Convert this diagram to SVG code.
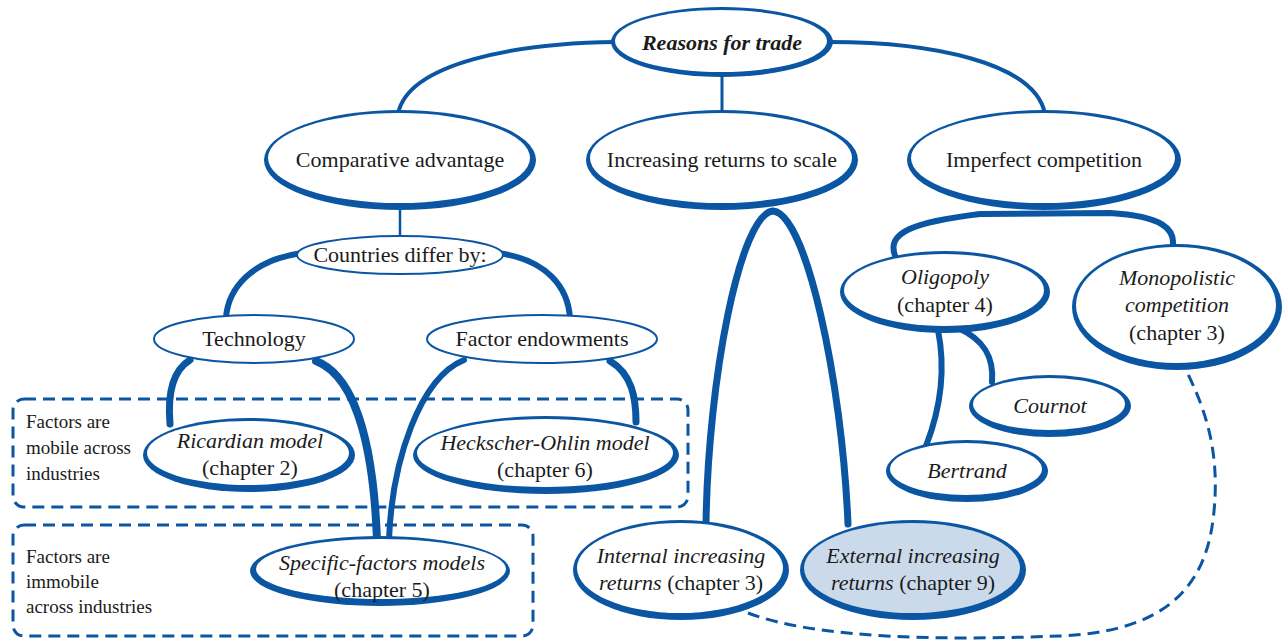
<svg xmlns="http://www.w3.org/2000/svg" width="1285" height="640" viewBox="0 0 1285 640">
  <style>
    .rim { fill: #0b56a3; }
    .face { fill: #ffffff; }
    .face.hl { fill: #cbdaeb; }
    .thin { fill: #ffffff; stroke: #0b56a3; stroke-width: 2; }
    .link { fill: none; stroke: #0b56a3; stroke-linecap: round; }
    .dash { fill: none; stroke: #0b56a3; stroke-width: 3; stroke-dasharray: 12 7; }
    .lbl { font-family: "Liberation Serif", Tinos, "Times New Roman", Times, "DejaVu Serif", "Noto Serif", Georgia, serif; font-size: 22px; fill: #1b1b1b; text-anchor: middle; }
    .i { font-style: italic; }
    .title { font-weight: bold; font-style: italic; font-size: 22px; }
    .note { font-size: 19px; text-anchor: start; }
  </style>

  <!-- grouping boxes -->
  <g id="boxes">
    <rect class="dash" x="13" y="399" width="675" height="108" rx="11"/>
    <rect class="dash" x="13" y="525" width="520" height="111" rx="11"/>
    <text class="lbl note" x="26" y="428">Factors are</text>
    <text class="lbl note" x="26" y="454">mobile across</text>
    <text class="lbl note" x="26" y="480">industries</text>
    <text class="lbl note" x="26" y="563">Factors are</text>
    <text class="lbl note" x="26" y="588">immobile</text>
    <text class="lbl note" x="26" y="613">across industries</text>
  </g>

  <!-- connectors -->
  <g id="connectors">
    <path class="link" stroke-width="4" d="M398,114 C408,62 520,43 616,42"/>
    <path class="link" stroke-width="4" d="M830,42 C930,42 1035,62 1045,114"/>
    <path class="link" stroke-width="3" d="M722,76 L722,112"/>
    <path class="link" stroke-width="2.5" d="M400,208 L400,238"/>
    <path class="link" stroke-width="6" d="M302,253 C252,260 228,288 226,318"/>
    <path class="link" stroke-width="6" d="M498,253 C548,260 568,288 570,318"/>
    <path class="link" stroke-width="7" d="M190,360 C170,372 168,400 170,424"/>
    <path class="link" stroke-width="8" d="M316,361 C360,378 374,460 377,540"/>
    <path class="link" stroke-width="6" d="M464,360 C420,378 392,460 389,540"/>
    <path class="link" stroke-width="7" d="M610,361 C632,374 636,398 636,422"/>
    <path class="link" stroke-width="7" d="M706,524 C708,380 740,214 773,211 C806,214 842,380 848,524"/>
    <path class="link" stroke-width="6" d="M896,258 C884,232 915,222 980,214 L1110,213 C1160,216 1178,228 1172,250"/>
    <path class="link" stroke-width="6" d="M938,330 C946,370 940,410 926,446"/>
    <path class="link" stroke-width="6" d="M958,328 C985,340 994,358 992,382"/>
    <path class="dash" d="M748,613 C820,640 950,640 1060,636 C1150,632 1203,600 1213,520 C1222,450 1203,405 1186,370"/>
  </g>

  <g id="reasons">
    <ellipse class="rim" cx="722" cy="42" rx="111" ry="35"/>
    <ellipse class="face" cx="721" cy="41" rx="106" ry="31"/>
    <text class="lbl title" x="722" y="50">Reasons for trade</text>
  </g>
  <g id="comparative">
    <ellipse class="rim" cx="400" cy="160" rx="136" ry="50"/>
    <ellipse class="face" cx="399" cy="158" rx="131" ry="45"/>
    <text class="lbl" x="400" y="167">Comparative advantage</text>
  </g>
  <g id="increasing">
    <ellipse class="rim" cx="722" cy="160" rx="136" ry="50"/>
    <ellipse class="face" cx="721" cy="158" rx="131" ry="45"/>
    <text class="lbl" x="722" y="167">Increasing returns to scale</text>
  </g>
  <g id="imperfect">
    <ellipse class="rim" cx="1044" cy="160" rx="137" ry="50"/>
    <ellipse class="face" cx="1043" cy="158" rx="132" ry="45"/>
    <text class="lbl" x="1044" y="167">Imperfect competition</text>
  </g>
  <g id="countries">
    <ellipse class="thin" cx="400" cy="255" rx="103" ry="19"/>
    <text class="lbl" x="400" y="262">Countries differ by:</text>
  </g>
  <g id="technology">
    <ellipse class="thin" cx="254" cy="339" rx="100" ry="24"/>
    <text class="lbl" x="254" y="346">Technology</text>
  </g>
  <g id="endowments">
    <ellipse class="thin" cx="542" cy="339" rx="115" ry="24"/>
    <text class="lbl" x="542" y="346">Factor endowments</text>
  </g>
  <g id="ricardian">
    <ellipse class="rim" cx="249" cy="455" rx="106" ry="37"/>
    <ellipse class="face" cx="248" cy="453" rx="101" ry="32"/>
    <text class="lbl i" x="250" y="448">Ricardian model</text>
    <text class="lbl" x="250" y="475">(chapter 2)</text>
  </g>
  <g id="heckscher">
    <ellipse class="rim" cx="546" cy="455" rx="133" ry="39"/>
    <ellipse class="face" cx="545" cy="453" rx="128" ry="34"/>
    <text class="lbl i" x="545" y="450">Heckscher-Ohlin model</text>
    <text class="lbl" x="545" y="477">(chapter 6)</text>
  </g>
  <g id="specific">
    <ellipse class="rim" cx="380" cy="571" rx="130" ry="35"/>
    <ellipse class="face" cx="381" cy="569" rx="125" ry="30"/>
    <text class="lbl i" x="382" y="570">Specific-factors models</text>
    <text class="lbl" x="382" y="597">(chapter 5)</text>
  </g>
  <g id="internal">
    <ellipse class="rim" cx="681" cy="570" rx="108" ry="50"/>
    <ellipse class="face" cx="680" cy="568" rx="103" ry="45"/>
    <text class="lbl i" x="681" y="563">Internal increasing</text>
    <text class="lbl" x="681" y="590"><tspan class="i">returns</tspan> (chapter 3)</text>
  </g>
  <g id="external">
    <ellipse class="rim" cx="913" cy="570" rx="113" ry="50"/>
    <ellipse class="face hl" cx="912" cy="568" rx="108" ry="45"/>
    <text class="lbl i" x="913" y="563">External increasing</text>
    <text class="lbl" x="913" y="590"><tspan class="i">returns</tspan> (chapter 9)</text>
  </g>
  <g id="oligopoly">
    <ellipse class="rim" cx="945" cy="292" rx="105" ry="41"/>
    <ellipse class="face" cx="944" cy="290" rx="100" ry="36"/>
    <text class="lbl i" x="945" y="284">Oligopoly</text>
    <text class="lbl" x="945" y="312">(chapter 4)</text>
  </g>
  <g id="monopolistic">
    <ellipse class="rim" cx="1177" cy="307" rx="105" ry="63"/>
    <ellipse class="face" cx="1176" cy="305" rx="100" ry="58"/>
    <text class="lbl i" x="1177" y="285">Monopolistic</text>
    <text class="lbl i" x="1177" y="312">competition</text>
    <text class="lbl" x="1177" y="340">(chapter 3)</text>
  </g>
  <g id="cournot">
    <ellipse class="rim" cx="1050" cy="406" rx="81" ry="31"/>
    <ellipse class="face" cx="1049" cy="404" rx="76" ry="26"/>
    <text class="lbl i" x="1050" y="413">Cournot</text>
  </g>
  <g id="bertrand">
    <ellipse class="rim" cx="967" cy="471" rx="81" ry="31"/>
    <ellipse class="face" cx="966" cy="469" rx="76" ry="26"/>
    <text class="lbl i" x="967" y="478">Bertrand</text>
  </g>
</svg>
